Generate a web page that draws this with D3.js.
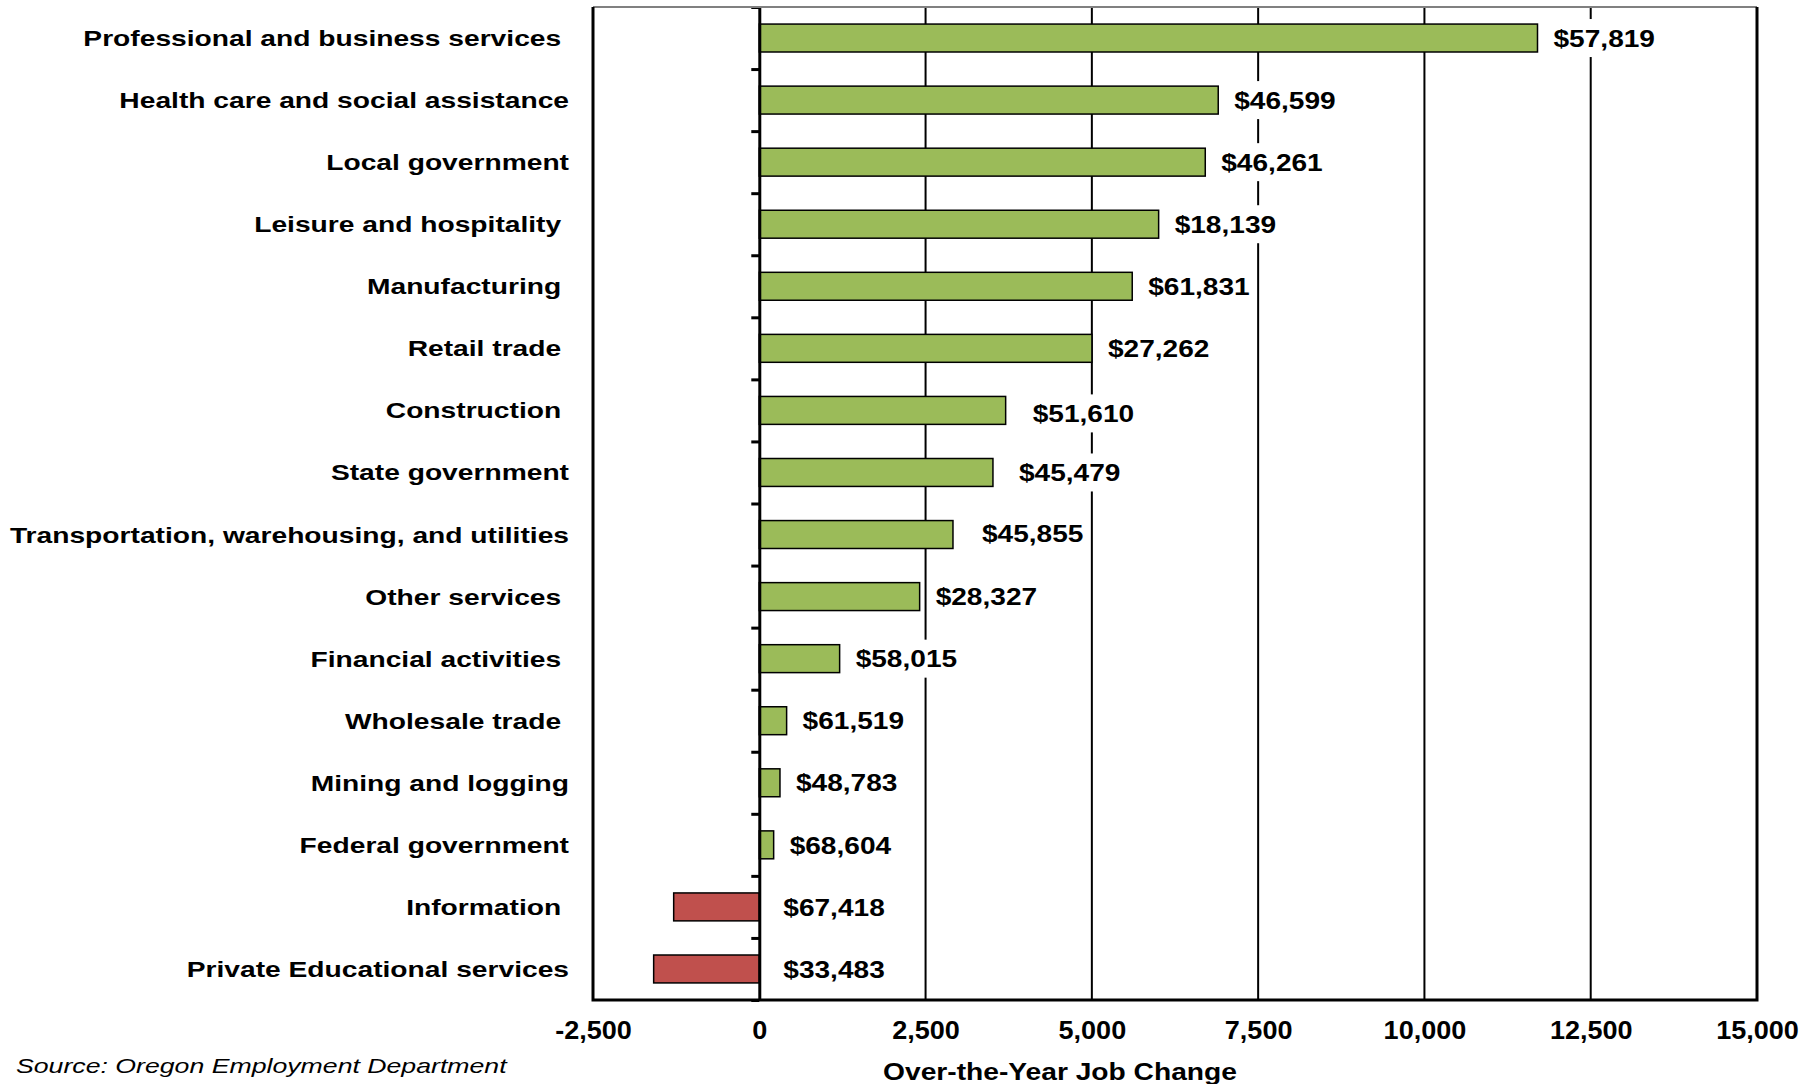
<!DOCTYPE html>
<html>
<head>
<meta charset="utf-8">
<script src="https://cdn.jsdelivr.net/npm/d3@7"></script>
<style>
  body { margin: 0; background: #fff; }
  text { font-family: Arial, "Liberation Sans", sans-serif; fill: #000; }
</style>
</head>
<body>
<div id="chart"></div>
<script>
const categories = [
  "Professional and business services ",
  "Health care and social assistance",
  "Local government",
  "Leisure and hospitality ",
  "Manufacturing ",
  "Retail trade ",
  "Construction ",
  "State government",
  "Transportation, warehousing, and utilities",
  "Other services ",
  "Financial activities ",
  "Wholesale trade ",
  "Mining and logging",
  "Federal government",
  "Information ",
  "Private Educational services"
];
const jobChange = [11700, 6900, 6705, 6004, 5607, 5001, 3704, 3513, 2912, 2411, 1208, 411, 311, 216, -1287, -1588];
const avgWage = [57819, 46599, 46261, 18139, 61831, 27262, 51610, 45479, 45855, 28327, 58015, 61519, 48783, 68604, 67418, 33483];
const xTicks = [-2500, 0, 2500, 5000, 7500, 10000, 12500, 15000];
const xTickLabels = ["-2,500", "0", "2,500", "5,000", "7,500", "10,000", "12,500", "15,000"];

// a few labels were dragged by hand in the original
const labelNudge = {"Construction ": [11, 3], "State government": [10, 0], "Transportation, warehousing, and utilities": [13, -1]};

const data = categories.map((c, i) => ({cat: c, value: jobChange[i], wage: avgWage[i]}));

const width = 1817;
const height = 1084;
const plotL = 593, plotR = 1757, plotT = 7, plotB = 1000;

const svg = d3.select("#chart")
  .append("svg")
  .attr("width", width)
  .attr("height", height);

const x = d3.scaleLinear()
  .domain([-2500, 15000])
  .range([plotL, plotR]);

const y = d3.scaleBand()
  .domain(categories)
  .range([plotT, plotB])
  .paddingInner(0.55)
  .paddingOuter(0.275);

// gridlines
svg.append("g")
  .selectAll("line")
  .data(xTicks.filter(d => d > 0 && d < 15000))
  .join("line")
  .attr("x1", d => x(d)).attr("x2", d => x(d))
  .attr("y1", plotT).attr("y2", plotB)
  .attr("stroke", "#000")
  .attr("stroke-width", 2);

// bars
svg.append("g")
  .selectAll("rect")
  .data(data)
  .join("rect")
  .attr("x", d => x(Math.min(0, d.value)))
  .attr("y", d => y(d.cat))
  .attr("width", d => Math.abs(x(d.value) - x(0)))
  .attr("height", y.bandwidth())
  .attr("fill", d => d.value < 0 ? "#C0504D" : "#9BBB59")
  .attr("stroke", "#000")
  .attr("stroke-width", 1.5);

// value labels with white boxes
const valSx = 1.17;
const lab = svg.append("g")
  .selectAll("g")
  .data(data)
  .join("g")
  .attr("transform", d => {
    const n = labelNudge[d.cat] || [0, 0];
    const x0 = d.value < 0 ? x(0) + 24 : x(d.value) + 16;
    return `translate(${x0 + n[0]},${y(d.cat) + y.bandwidth() / 2 + n[1]})`;
  });

lab.append("rect").attr("fill", "#fff");
const labText = lab.append("text")
  .attr("transform", `scale(${valSx},1)`)
  .attr("y", 8.7)
  .attr("font-size", 24)
  .attr("font-weight", "bold")
  .text(d => "$" + d3.format(",")(d.wage));

labText.each(function() {
  const w = this.getComputedTextLength() * valSx;
  d3.select(this.parentNode).select("rect")
    .attr("x", -4).attr("y", -19)
    .attr("width", w + 8).attr("height", 38);
});

// zero axis with ticks at band boundaries
const edge = d3.scaleLinear().domain([0, categories.length]).range([plotT, plotB]);
const zeroAxis = svg.append("g")
  .attr("transform", `translate(${x(0)},0)`)
  .call(d3.axisLeft(edge).tickValues(d3.range(categories.length + 1)).tickSize(8).tickSizeOuter(0).tickFormat(""));
zeroAxis.selectAll("line").attr("stroke", "#000").attr("stroke-width", 3);
zeroAxis.select(".domain").attr("stroke", "#000").attr("stroke-width", 3);

// plot frame
svg.append("line")
  .attr("x1", plotL).attr("x2", plotR).attr("y1", plotT).attr("y2", plotT)
  .attr("stroke", "#808080").attr("stroke-width", 2);
svg.append("path")
  .attr("d", `M${plotL},${plotT}V${plotB}H${plotR}V${plotT}`)
  .attr("fill", "none")
  .attr("stroke", "#000")
  .attr("stroke-width", 3);

// category labels
svg.append("g")
  .selectAll("text")
  .data(data)
  .join("text")
  .attr("transform", d => `translate(569,${y(d.cat) + y.bandwidth() / 2 + 8}) scale(1.253,1)`)
  .attr("text-anchor", "end")
  .attr("xml:space", "preserve")
  .style("white-space", "pre")
  .attr("font-size", 22.5)
  .attr("font-weight", "bold")
  .text(d => d.cat);

// x axis tick labels
const xAxis = svg.append("g")
  .attr("transform", `translate(0,${plotB})`)
  .call(d3.axisBottom(x).tickValues(xTicks).tickSize(0).tickPadding(0)
    .tickFormat((d, i) => xTickLabels[i]));
xAxis.select(".domain").remove();
xAxis.selectAll("text")
  .attr("y", 39)
  .attr("dy", 0)
  .attr("transform", "scale(1.06,1)")
  .attr("font-size", 25.5)
  .attr("font-weight", "bold")
  .attr("font-family", "Arial, 'Liberation Sans', sans-serif")
  .attr("fill", "#000");

// X label
svg.append("text")
  .attr("transform", "translate(1060,1080) scale(1.2,1)")
  .attr("text-anchor", "middle")
  .attr("font-size", 23.5)
  .attr("font-weight", "bold")
  .text("Over-the-Year Job Change");

// source
svg.append("text")
  .attr("transform", "translate(16,1073) scale(1.27,1)")
  .attr("font-size", 21)
  .attr("font-style", "italic")
  .text("Source: Oregon Employment Department");
</script>
</body>
</html>
